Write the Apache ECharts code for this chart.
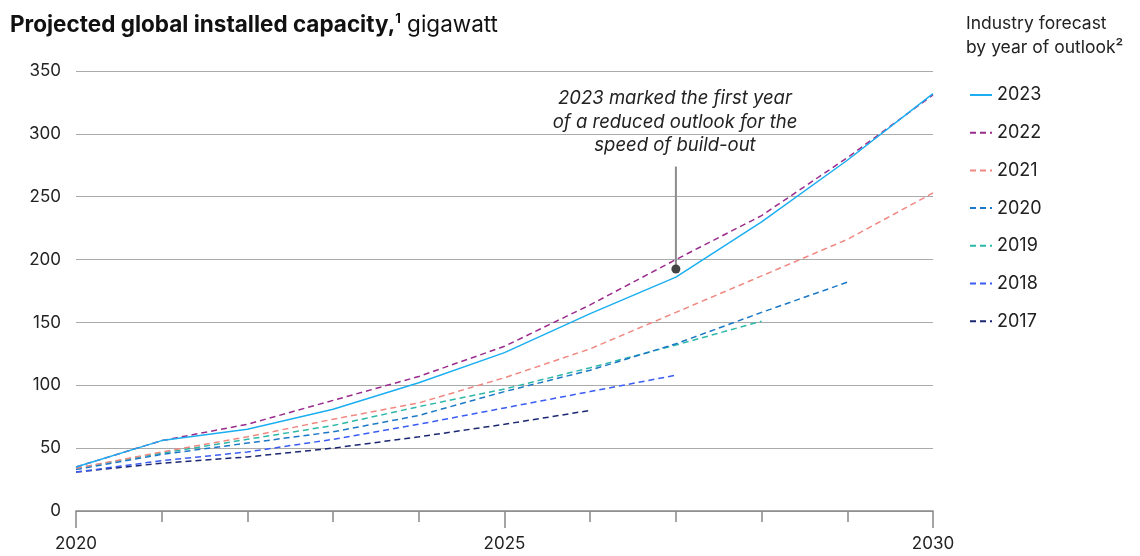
<!DOCTYPE html>
<html><head><meta charset="utf-8">
<script src="https://cdn.jsdelivr.net/npm/echarts@6/dist/echarts.min.js"></script>
<style>html,body{margin:0;padding:0;background:#fff}#c{width:1140px;height:556px}</style>
</head><body><div id="c"></div>
<script>
const years = [2020,2021,2022,2023,2024,2025,2026,2027,2028,2029,2030];
const yTicks = [0,50,100,150,200,250,300,350];
const xLabelYears = [2020,2025,2030];
const outlook2023 = [35,56,65,81,102,126,157,186,230,279,332];
const outlook2022 = [35,56,69,88,107,131,164,200,235,281,331];
const outlook2021 = [34,47,59,73,86,106,129,158,187,216,253];
const outlook2020 = [33,45,54,63,76,95,112,133,158,182];
const outlook2019 = [34,46,57,68,83,97,114,132,151];
const outlook2018 = [31,40,47,57,69,82,95,108];
const outlook2017 = [31,38,43,50,59,69,80];
const annotationLine = [[2027,274],[2027,192.5]];
const annotationText = "2023 marked the first year\nof a reduced outlook for the\nspeed of build-out";

const seriesDefs = [
  {name:'2017', data:outlook2017, color:'#1B2770', dashed:true},
  {name:'2018', data:outlook2018, color:'#3A5CF2', dashed:true},
  {name:'2019', data:outlook2019, color:'#2BB8A8', dashed:true},
  {name:'2020', data:outlook2020, color:'#1C78C6', dashed:true},
  {name:'2021', data:outlook2021, color:'#F08882', dashed:true},
  {name:'2022', data:outlook2022, color:'#9A2B8C', dashed:true},
  {name:'2023', data:outlook2023, color:'#1BAEF0', dashed:false}
];
const FONT = 'Inter, "Liberation Sans", sans-serif';
const chart = echarts.init(document.getElementById('c'));
const series = seriesDefs.map(s => ({
  name: s.name, type:'line', xAxisIndex:0, yAxisIndex:0,
  data: s.data.map((v,i)=>[years[i], v]),
  symbol:'none', showSymbol:false, animation:false,
  lineStyle:{color:s.color, width:1.5, type: s.dashed ? [6,4] : 'solid'},
  itemStyle:{color:s.color}
}));
series.push({
  name:'annot', type:'line', animation:false,
  data: [
    {value: annotationLine[0], symbol:'none', symbolSize:0},
    {value: annotationLine[1], symbol:'circle', symbolSize:9}
  ],
  showSymbol:true,
  lineStyle:{color:'#8c8c8c', width:2}, itemStyle:{color:'#444'},
  z:10, silent:true
});
chart.setOption({
  backgroundColor:'#fff',
  animation:false,
  textStyle:{fontFamily:FONT},
  grid:{left:76, right:207, top:71, bottom:45, containLabel:false},
  title:{
    left:10, top:13, padding:0,
    text:'{b|Projected global installed capacity,}{s|1}{n| gigawatt}',
    textStyle:{rich:{
      b:{fontFamily:FONT, fontWeight:'bold', fontSize:22.5, color:'#111'},
      s:{fontFamily:FONT, fontWeight:'bold', fontSize:13, color:'#111', verticalAlign:'top', padding:[0,0,11,0]},
      n:{fontFamily:FONT, fontWeight:'normal', fontSize:22.5, color:'#111'}
    }}
  },
  legend:{
    orient:'vertical', left:964, top:80,
    data: seriesDefs.slice().reverse().map(s=>s.name),
    itemWidth:22, itemHeight:14, itemGap:17.7,
    itemStyle:{opacity:0},
    textStyle:{fontFamily:FONT, fontSize:18, color:'#222', lineHeight:20},
    selectedMode:false
  },
  graphic:[
    {type:'text', left:966, top:12, style:{text:'Industry forecast\nby year of outlook²', fontFamily:FONT, fontSize:17.5, lineHeight:24, fill:'#222'}},
    {type:'text', x:675, y:87, style:{text:annotationText, fontFamily:FONT, fontSize:18.5, fontStyle:'italic', lineHeight:23.5, fill:'#222', align:'center', verticalAlign:'top'}}
  ],
  xAxis:[{
    type:'value', min:2020, max:2030, interval:1,
    axisLine:{show:true, lineStyle:{color:'#888', width:1.5}},
    axisTick:{show:true, length:11, lineStyle:{color:'#888', width:1.5}},
    splitLine:{show:false},
    axisLabel:{margin:24, fontSize:17, color:'#222', fontFamily:FONT,
      formatter: v => xLabelYears.includes(v) ? String(v) : ''}
  },{
    type:'value', min:2020, max:2030, interval:5, position:'bottom',
    axisLine:{show:false},
    axisTick:{show:true, length:17, lineStyle:{color:'#888', width:1.5}},
    axisLabel:{show:false}, splitLine:{show:false}
  }],
  yAxis:{
    type:'value', min:0, max:350, interval:50,
    axisLine:{show:false}, axisTick:{show:false},
    axisLabel:{margin:15, fontSize:17, color:'#222', fontFamily:FONT,
      formatter: v => yTicks.includes(v) ? String(v) : ''},
    splitLine:{show:true, lineStyle:{color:'#aaa', width:1.2}}
  },
  series: series
});
</script></body></html>
